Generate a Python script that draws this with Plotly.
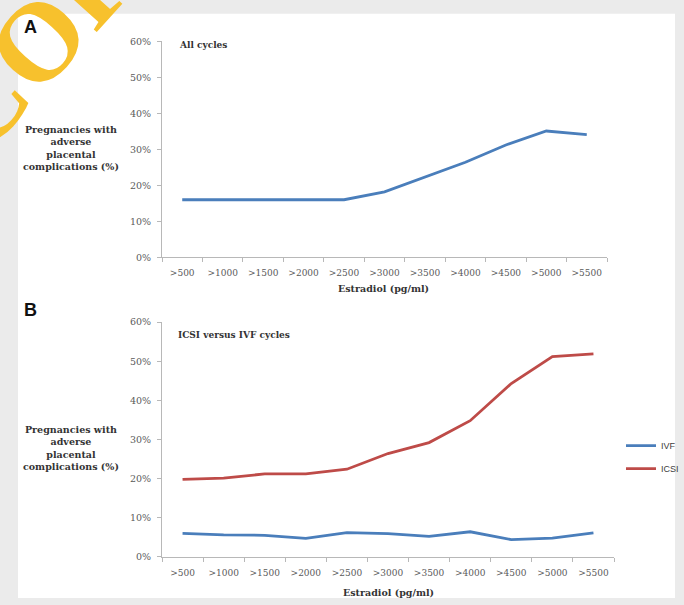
import plotly.graph_objects as go

categories = [">500", ">1000", ">1500", ">2000", ">2500", ">3000", ">3500", ">4000", ">4500", ">5000", ">5500"]
all_cycles = [16.0, 16.0, 16.0, 16.0, 16.0, 18.2, 22.2, 26.4, 31.2, 35.1, 34.1]
ivf = [6.0, 5.6, 5.5, 4.7, 6.2, 5.9, 5.2, 6.4, 4.4, 4.8, 6.1]
icsi = [19.8, 20.1, 21.2, 21.2, 22.4, 26.4, 29.2, 34.8, 44.3, 51.2, 51.9]
y_ticks = [0, 10, 20, 30, 40, 50, 60]
y_tick_labels = ["0%", "10%", "20%", "30%", "40%", "50%", "60%"]
y_title = "Pregnancies with<br>adverse<br>placental<br>complications (%)"
x_title = "Estradiol (pg/ml)"

W, H = 684, 605
BLUE = "#4a7ebb"
RED = "#be4b48"
SERIF = "DejaVu Serif"

def px(x):
    return x / W

def py(y):
    return 1 - y / H

fig = go.Figure()
fig.add_trace(go.Scatter(x=categories, y=all_cycles, mode="lines", line=dict(color=BLUE, width=2.8),
                         xaxis="x", yaxis="y", showlegend=False))
fig.add_trace(go.Scatter(x=categories, y=ivf, mode="lines", name="IVF", line=dict(color=BLUE, width=2.8),
                         xaxis="x2", yaxis="y2", legendgroup="ivf"))
fig.add_trace(go.Scatter(x=categories, y=icsi, mode="lines", name="ICSI", line=dict(color=RED, width=2.8),
                         xaxis="x2", yaxis="y2", legendgroup="icsi"))

axis_common = dict(showline=True, linecolor="#b8b8b8", linewidth=1, showgrid=False, zeroline=False,
                   ticks="outside", ticklen=4, tickcolor="#b8b8b8",
                   tickfont=dict(family=SERIF, size=9, color="#5a5a5a"))

xa = dict(axis_common, type="category", range=[-0.5, 10.5], tickson="boundaries", tickangle=0,
          ticklabelstandoff=7)
ya = dict(axis_common, range=[0, 60], tickmode="array", tickvals=y_ticks, ticktext=y_tick_labels,
          ticklabelstandoff=4, tickfont=dict(family=SERIF, size=9.5, color="#5a5a5a"))

fig.update_layout(
    width=W, height=H,
    margin=dict(l=0, r=0, t=0, b=0),
    paper_bgcolor="#ebebeb",
    plot_bgcolor="rgba(0,0,0,0)",
    xaxis=dict(xa, domain=[px(162), px(607)], anchor="y"),
    yaxis=dict(ya, domain=[py(256), py(36)], anchor="x"),
    xaxis2=dict(xa, domain=[px(162), px(614)], anchor="y2"),
    yaxis2=dict(ya, domain=[py(561), py(322)], anchor="x2"),
    legend=dict(x=px(621), y=py(433), xanchor="left", yanchor="top", bgcolor="rgba(0,0,0,0)",
                font=dict(family="Liberation Sans", size=9, color="#404040"),
                itemwidth=30, tracegroupgap=4),
    shapes=[dict(type="rect", xref="paper", yref="paper", x0=px(18), x1=px(675), y0=py(603), y1=py(8),
                 fillcolor="white", line=dict(width=0), layer="below")],
)

annotations = []
# watermark (partly outside the page, as in the reference)
annotations.append(dict(text="<b>COPY</b>", x=px(60), y=py(10), xref="paper", yref="paper", showarrow=False,
                        textangle=-48, font=dict(family="Liberation Serif", size=112, color="#f7c12d"),
                        xanchor="center", yanchor="middle"))
for label, lx, ly in [("A", 30, 21), ("B", 30, 310)]:
    annotations.append(dict(text="<b>" + label + "</b>", x=px(lx), y=py(ly), xref="paper", yref="paper",
                            showarrow=False, font=dict(family="Liberation Sans", size=18, color="#111111"),
                            xanchor="center", yanchor="middle"))
for cy in [145, 450]:
    annotations.append(dict(text="<b>" + y_title + "</b>", x=px(71), y=py(cy), xref="paper", yref="paper",
                            showarrow=False, align="center",
                            font=dict(family=SERIF, size=9.5, color="#333333"),
                            xanchor="center", yanchor="middle"))
for tx, ty in [(383, 288), (388, 597)]:
    annotations.append(dict(text="<b>" + x_title + "</b>", x=px(tx), y=py(ty), xref="paper", yref="paper",
                            showarrow=False, font=dict(family=SERIF, size=9.5, color="#333333"),
                            xanchor="center", yanchor="middle"))
for text, tx, ty in [("All cycles", 177, 40), ("ICSI versus IVF cycles", 176, 335)]:
    annotations.append(dict(text="<b>" + text + "</b>", x=px(tx), y=py(ty), xref="paper", yref="paper",
                            showarrow=False, font=dict(family=SERIF, size=9, color="#333333"),
                            xanchor="left", yanchor="middle"))
fig.update_layout(annotations=annotations)

fig.write_html("out.html")
